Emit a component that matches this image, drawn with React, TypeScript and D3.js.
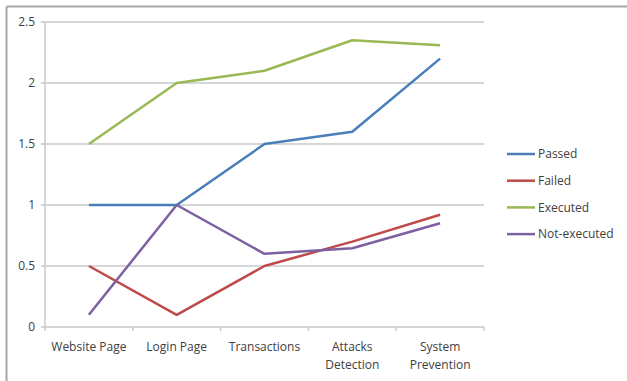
import React from "react";
import * as d3 from "d3";

const categories = [["Website Page"], ["Login Page"], ["Transactions"], ["Attacks", "Detection"], ["System", "Prevention"]];
const seriesNames = ["Passed", "Failed", "Executed", "Not-executed"];
const passed = [1, 1, 1.5, 1.6, 2.2];
const failed = [0.5, 0.1, 0.5, 0.7, 0.92];
const executed = [1.5, 2.0, 2.1, 2.35, 2.31];
const notExecuted = [0.1, 1.0, 0.6, 0.645, 0.85];
const yTicks = [0, 0.5, 1, 1.5, 2, 2.5];
const colors = ["#4A7EBB", "#BE4B48", "#98B954", "#7D60A0"];

export default function App() {
  const W = 627, H = 381;
  const left = 45, right = 484, top = 22, bottom = 327;
  const x = d3.scaleBand<number>().domain(d3.range(categories.length)).range([left, right]);
  const y = d3.scaleLinear().domain([0, 2.5]).range([bottom, top]);
  const line = d3.line<number>().x((_, i) => (x(i) as number) + x.bandwidth() / 2).y((v) => y(v));
  const data = [passed, failed, executed, notExecuted];
  const font = "'Open Sans', sans-serif";
  const txt = "#404040";
  const fs = 12;
  return (
    <svg width={W} height={H} style={{ position: "absolute", left: 0, top: 0 }} fontFamily={font}>
      <rect width={W} height={H} fill="#fff" />
      <line x1={6.5} x2={W} y1={6.5} y2={6.5} stroke="#a6a6a6" strokeWidth={2} />
      <line x1={6.5} x2={6.5} y1={6.5} y2={H} stroke="#a6a6a6" strokeWidth={2} />
      {yTicks.map((t) => (
        <g key={t}>
          <line x1={left - 4} x2={right} y1={y(t)} y2={y(t)} stroke="#c8c8c8" strokeWidth={1.5} />
          <text x={left - 10} y={y(t)} dy="0.35em" textAnchor="end" fontSize={fs} fill={txt}>{t}</text>
        </g>
      ))}
      <line x1={left} x2={left} y1={top} y2={bottom} stroke="#c8c8c8" strokeWidth={1.5} />
      {d3.range(categories.length + 1).map((i) => {
        const xx = i < categories.length ? (x(i) as number) : right;
        return <line key={i} x1={xx} x2={xx} y1={bottom} y2={bottom + 4} stroke="#c8c8c8" strokeWidth={1.5} />;
      })}
      {categories.map((c, i) => (
        <text key={i} x={(x(i) as number) + x.bandwidth() / 2} y={351} textAnchor="middle" fontSize={fs} fill={txt}>
          {c.map((s, j) => (
            <tspan key={j} x={(x(i) as number) + x.bandwidth() / 2} dy={j === 0 ? 0 : 18}>{s}</tspan>
          ))}
        </text>
      ))}
      {data.map((d, k) => (
        <path key={k} d={line(d) as string} fill="none" stroke={colors[k]} strokeWidth={2.5} strokeLinejoin="round" />
      ))}
      {seriesNames.map((n, k) => (
        <g key={n} transform={`translate(507,${154 + k * 26.7})`}>
          <line x1={0} x2={28} y1={0} y2={0} stroke={colors[k]} strokeWidth={2.5} />
          <text x={31} y={0} dy="0.35em" fontSize={fs} fill={txt}>{n}</text>
        </g>
      ))}
    </svg>
  );
}
